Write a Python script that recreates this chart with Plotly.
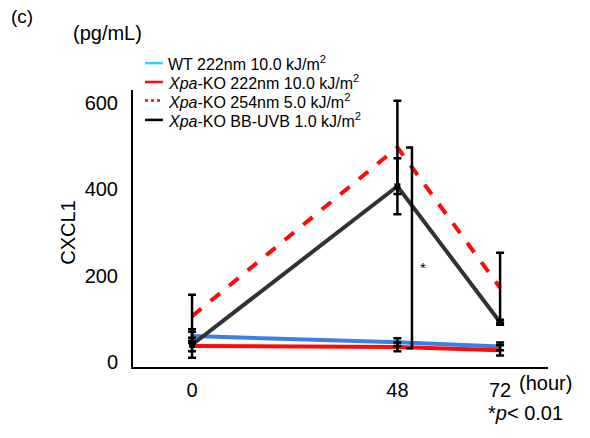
import plotly.graph_objects as go

hours = [0, 48, 72]
tick_vals_y = [0, 200, 400, 600]

wt_222 = [60, 46, 36]
wt_222_err = [16, 9, 9]
ko_222 = [37, 35, 27]
ko_222_err = [12, 10, 12]
ko_254 = [106, 497, 172]
ko_254_err = [50, 108, 81]
ko_bbuvb = [40, 407, 92]
ko_bbuvb_err = [30, 65, 6]

names = [
    "WT 222nm 10.0 kJ/m<sup>2</sup>",
    "<i>Xpa</i>-KO 222nm 10.0 kJ/m<sup>2</sup>",
    "<i>Xpa</i>-KO 254nm 5.0 kJ/m<sup>2</sup>",
    "<i>Xpa</i>-KO BB-UVB 1.0 kJ/m<sup>2</sup>",
]

# significance bracket (48 h comparison)
bracket_x = [50.0, 51.4]
bracket_y = [32, 497]
star_pos = (54, 218)

BLUE = "#3a80e6"
RED = "#ff0a0a"
GRAY = "#2e3338"
CYAN = "#2fd0f5"
FONT = "Liberation Sans, Arial, sans-serif"

fig = go.Figure()

series = [
    (wt_222, wt_222_err, BLUE, "solid"),
    (ko_222, ko_222_err, RED, "solid"),
    (ko_bbuvb, ko_bbuvb_err, GRAY, "solid"),
    (ko_254, ko_254_err, RED, "dash"),
]

for vals, err, col, dash in series:
    fig.add_trace(go.Scatter(x=hours, y=vals, mode="lines",
                             line=dict(color=col, width=4, dash=dash),
                             showlegend=False, hoverinfo="skip"))

for vals, err, col, dash in series:
    is_gray = col == GRAY
    fig.add_trace(go.Scatter(
        x=hours, y=vals, mode="markers",
        marker=dict(color="black", size=6 if is_gray else 1, symbol="square",
                    opacity=1 if is_gray else 0),
        error_y=dict(type="data", array=err, visible=True, color="black",
                     thickness=2.5, width=4),
        showlegend=False, hoverinfo="skip"))

# bracket
fig.add_trace(go.Scatter(
    x=[bracket_x[0], bracket_x[1], bracket_x[1], bracket_x[0]],
    y=[bracket_y[1], bracket_y[1], bracket_y[0], bracket_y[0]],
    mode="lines", line=dict(color="black", width=2.5),
    showlegend=False, hoverinfo="skip"))

fig.add_annotation(x=star_pos[0], y=star_pos[1], text="*", showarrow=False,
                   font=dict(size=15, color="black", family=FONT))

# manual legend
legend_specs = [(CYAN, "solid"), (RED, "solid"), (RED, "dot"), ("black", "solid")]
legend_rows = [1.097, 1.029, 0.962, 0.892]
for name, (c, d), ry in zip(names, legend_specs, legend_rows):
    fig.add_shape(type="line", xref="paper", yref="paper",
                  x0=0.029, x1=0.072, y0=ry, y1=ry,
                  line=dict(color=c, width=2.5, dash=d))
    fig.add_annotation(xref="paper", yref="paper", x=0.080, y=ry, text=name,
                       showarrow=False, xanchor="left", yanchor="middle",
                       font=dict(size=16, color="black", family=FONT))

fig.add_annotation(xref="paper", yref="paper", x=-0.30, y=1.265, text="(c)",
                   showarrow=False, xanchor="left", yanchor="middle",
                   font=dict(size=19, color="black", family=FONT))
fig.add_annotation(xref="paper", yref="paper", x=-0.149, y=1.206, text="(pg/mL)",
                   showarrow=False, xanchor="left", yanchor="middle",
                   font=dict(size=20, color="black", family=FONT))
fig.add_annotation(xref="paper", yref="paper", x=-0.157, y=0.484, text="CXCL1",
                   showarrow=False, textangle=-90, xanchor="center", yanchor="middle",
                   font=dict(size=20, color="black", family=FONT))
fig.add_annotation(xref="paper", yref="paper", x=0.925, y=-0.056, text="(hour)",
                   showarrow=False, xanchor="left", yanchor="middle",
                   font=dict(size=20, color="black", family=FONT))
fig.add_annotation(xref="paper", yref="paper", x=1.04, y=-0.166,
                   text="*<i>p</i>< 0.01",
                   showarrow=False, xanchor="right", yanchor="middle",
                   font=dict(size=20, color="black", family=FONT))

fig.update_layout(
    width=590, height=438,
    margin=dict(l=133, r=42, t=90, b=71, autoexpand=False),
    paper_bgcolor="white", plot_bgcolor="white",
    font=dict(family=FONT, color="black"),
    showlegend=False,
    xaxis=dict(range=[-13.8, 83.2], tickvals=hours, ticktext=[str(h) for h in hours],
               showline=True, linecolor="black", linewidth=2, showgrid=False,
               zeroline=False, ticks="", tickfont=dict(size=20), ticklabelstandoff=4),
    yaxis=dict(range=[-11.6, 630], tickvals=tick_vals_y,
               showline=True, linecolor="black", linewidth=2, showgrid=False,
               zeroline=False, ticks="", tickfont=dict(size=20), ticklabelstandoff=9),
)

fig.write_html("out.html", config={"displayModeBar": False},
               post_script="document.body.style.margin='0';document.body.style.padding='0';")
